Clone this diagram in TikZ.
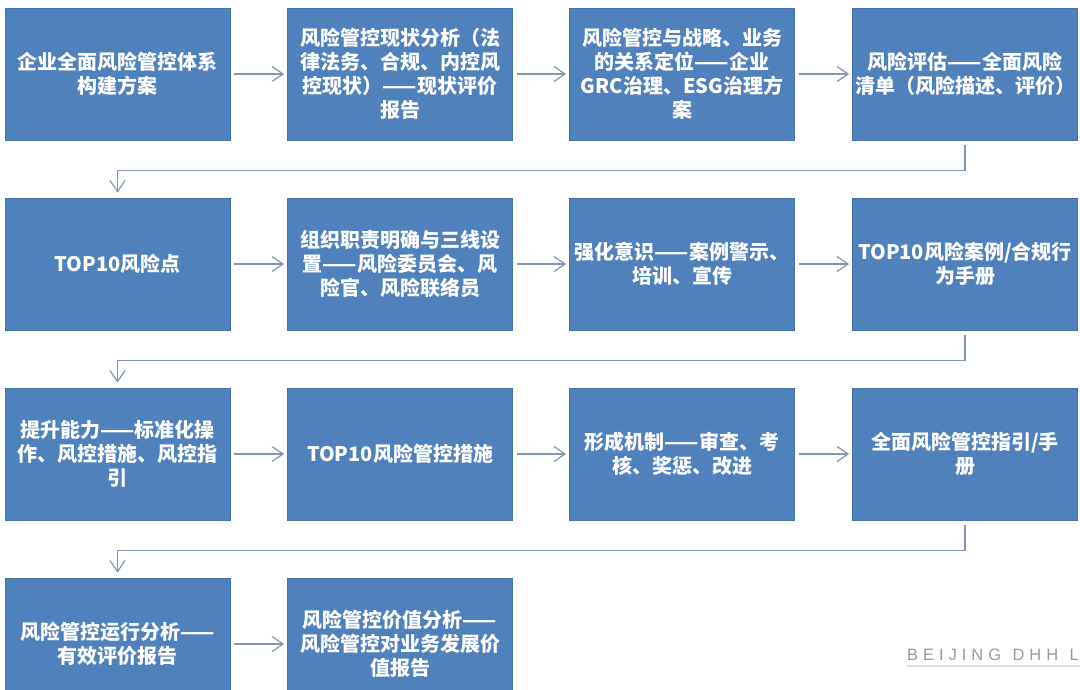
\documentclass[tikz,border=0pt]{standalone}
\usepackage{fontspec}
\newfontfamily\cjk{Noto Sans CJK SC}
\newfontfamily\wmfont[LetterSpace=30,WordSpace=1.2]{Liberation Sans}
\usetikzlibrary{arrows.meta,calc}
\definecolor{boxblue}{HTML}{4F81BD}
\definecolor{boxedge}{HTML}{4472AA}
\definecolor{linecol}{HTML}{8296B4}
\tikzset{
  stepbox/.style={rectangle, fill=boxblue, draw=boxedge, line width=0.8pt,
    minimum width=225pt, minimum height=132pt, inner sep=0pt,
    text=white, align=center,
    font=\cjk\bfseries\fontsize{20pt}{24pt}\selectfont},
  flow/.style={draw=linecol, line width=1.4pt,
    -{Straight Barb[length=11pt,width=15pt,line width=1.2pt]}},
}
\begin{document}
\begin{tikzpicture}[x=1pt,y=-1pt]
\useasboundingbox (0,0) rectangle (1080,689);
\begin{scope}
\clip (0,0) rectangle (1080,689);
% row 1
\node[stepbox] (a1) at (117.5,74) {企业全面风险管控体系\\构建方案};
\node[stepbox] (a2) at (400,74) {风险管控现状分析（法\\律法务、合规、内控风\\控现状）——现状评价\\报告};
\node[stepbox] (a3) at (682,74) {风险管控与战略、业务\\的关系定位——企业\\GRC治理、ESG治理方\\案};
\node[stepbox] (a4) at (965,74) {风险评估——全面风险\\清单（风险描述、评价）};
% row 2
\node[stepbox] (b1) at (117.5,264) {TOP10风险点};
\node[stepbox] (b2) at (400,264) {组织职责明确与三线设\\置——风险委员会、风\\险官、风险联络员};
\node[stepbox] (b3) at (682,264) {强化意识——案例警示、\\培训、宣传};
\node[stepbox] (b4) at (965,264) {TOP10风险案例/合规行\\为手册};
% row 3
\node[stepbox] (c1) at (117.5,454) {提升能力——标准化操\\作、风控措施、风控指\\引};
\node[stepbox] (c2) at (400,454) {TOP10风险管控措施};
\node[stepbox] (c3) at (682,454) {形成机制——审查、考\\核、奖惩、改进};
\node[stepbox] (c4) at (965,454) {全面风险管控指引/手\\册};
% row 4
\node[stepbox] (d1) at (117.5,644) {风险管控运行分析——\\有效评价报告};
\node[stepbox] (d2) at (400,644) {风险管控价值分析——\\风险管控对业务发展价\\值报告};
% horizontal arrows
\foreach \r in {a,b,c}{
  \draw[flow, shorten <=4pt, shorten >=3pt] (\r1.east) -- (\r2.west);
  \draw[flow, shorten <=4pt, shorten >=3pt] (\r2.east) -- (\r3.west);
  \draw[flow, shorten <=4pt, shorten >=3pt] (\r3.east) -- (\r4.west);
}
\draw[flow, shorten <=4pt, shorten >=3pt] (d1.east) -- (d2.west);
% elbow arrows
\draw[flow] ([yshift=-5pt]a4.south) -- ++(0,25) -| ([yshift=5pt]b1.north);
\draw[flow] ([yshift=-5pt]b4.south) -- ++(0,25) -| ([yshift=5pt]c1.north);
\draw[flow] ([yshift=-5pt]c4.south) -- ++(0,25) -| ([yshift=5pt]d1.north);
% watermark
\node[anchor=base west, inner sep=0pt, text=black!40,
  font=\wmfont\fontsize{16.5pt}{18pt}\selectfont] (wm) at (907,660) {BEIJING DHH L};
\draw[black!12, line width=1.8pt] (907,666) -- (1080,666);
\end{scope}
\end{tikzpicture}
\end{document}
